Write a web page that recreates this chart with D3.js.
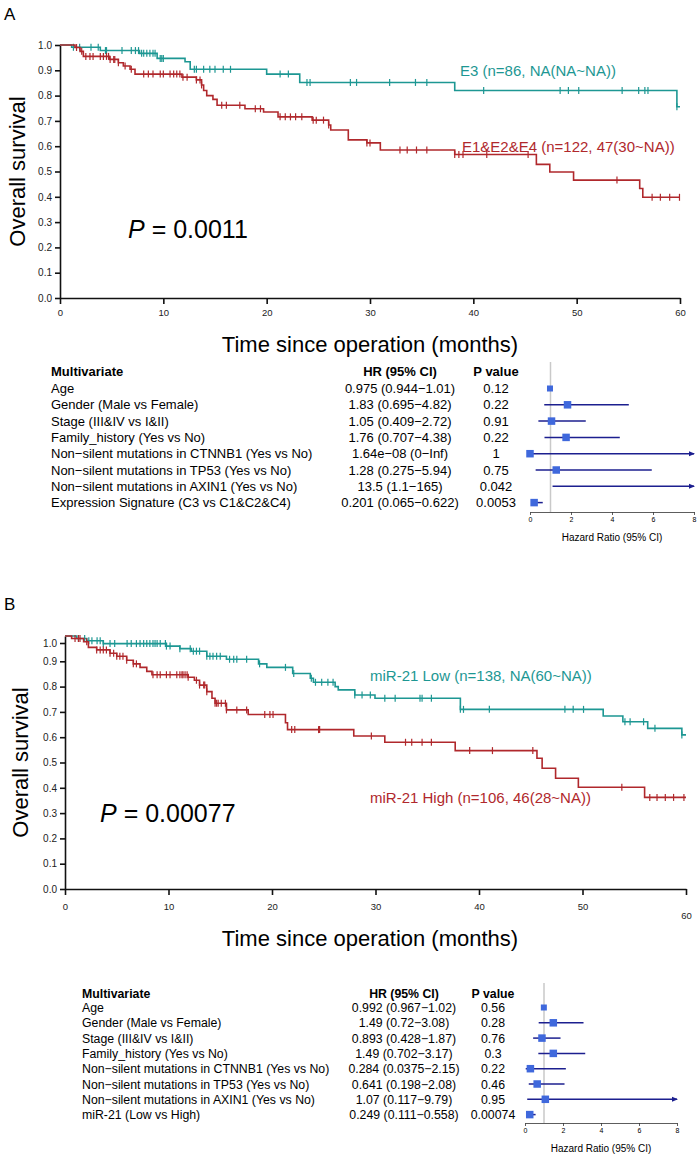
<!DOCTYPE html>
<html><head><meta charset="utf-8">
<script src="https://cdn.jsdelivr.net/npm/d3@7"></script>
<style>body{margin:0;background:#fff;} svg{display:block;font-family:"Liberation Sans",Arial,sans-serif;}</style>
</head><body><svg id="c" width="700" height="1170"></svg>
<script>
// ---------------- DATA ----------------
const xTicks = [0, 10, 20, 30, 40, 50, 60];
const yTicks = [0, 0.1, 0.2, 0.3, 0.4, 0.5, 0.6, 0.7, 0.8, 0.9, 1.0];
const forestTicks = [0, 2, 4, 6, 8];

// Panel A: E3
const aTealTimes = [0, 1.13, 3.9, 7.7, 9.4, 12.1, 12.6, 20.0, 23.2, 38.2, 59.7];
const aTealSurv  = [1.0, 0.991, 0.978, 0.967, 0.947, 0.934, 0.904, 0.885, 0.852, 0.82, 0.756];
const aTealCens  = [1.3, 1.9, 3.0, 3.7, 4.4, 4.5, 6.0, 6.9, 7.3, 7.6, 7.9, 8.1, 8.4, 8.7, 9.0, 9.2, 9.7, 9.85, 10.0, 13.0, 13.2, 13.9, 14.5, 15.0, 15.8, 16.5, 21.3, 22.1, 23.9, 24.2, 28.1, 28.7, 31.9, 34.4, 35.5, 41.0, 48.4, 49.2, 50.2, 54.4, 56.0, 56.6, 56.9, 59.7];
// Panel A: E1&E2&E4
const aRedTimes = [0, 1.45, 1.94, 2.26, 4.8, 5.65, 6.13, 6.78, 7.26, 11.8, 13.2, 13.7, 13.9, 14.2, 14.8, 15.2, 17.9, 19.7, 21.1, 24.4, 26.0, 26.2, 27.9, 29.7, 31.0, 38.2, 46.1, 47.4, 49.7, 56.1, 56.4];
const aRedSurv  = [1.0, 0.99, 0.975, 0.955, 0.943, 0.93, 0.917, 0.904, 0.885, 0.873, 0.862, 0.842, 0.82, 0.80, 0.785, 0.762, 0.748, 0.735, 0.716, 0.703, 0.684, 0.664, 0.625, 0.613, 0.585, 0.567, 0.528, 0.498, 0.466, 0.433, 0.398];
const aRedCens  = [1.6, 2.1, 2.5, 2.9, 3.2, 3.9, 4.2, 4.5, 4.7, 4.85, 5.2, 5.3, 5.65, 6.3, 6.9, 8.1, 8.55, 9.0, 9.7, 10.0, 10.65, 11.0, 11.3, 11.6, 11.9, 12.3, 13.2, 13.55, 13.7, 15.65, 16.1, 17.4, 18.9, 19.4, 21.3, 21.8, 22.3, 22.8, 23.4, 24.5, 24.8, 25.5, 26.0, 29.7, 30.0, 32.9, 33.6, 34.5, 35.5, 38.2, 38.6, 39.0, 41.3, 45.3, 53.9, 57.3, 58.1, 59.0, 59.95];

// Panel B: miR-21 Low
const bTealTimes = [0, 1.13, 2.1, 3.7, 9.8, 11.1, 12.2, 13.7, 15.6, 18.7, 19.5, 22.0, 23.7, 24.0, 26.1, 26.4, 28.0, 29.95, 38.2, 52.0, 53.9, 56.3, 59.6];
const bTealSurv  = [1.0, 0.99, 0.981, 0.97, 0.96, 0.95, 0.94, 0.92, 0.908, 0.89, 0.876, 0.852, 0.833, 0.817, 0.80, 0.787, 0.767, 0.754, 0.71, 0.684, 0.661, 0.635, 0.609];
const bTealCens  = [1.3, 1.9, 2.3, 2.6, 3.1, 3.4, 3.7, 4.35, 4.8, 6.0, 6.4, 6.9, 7.25, 7.6, 7.9, 8.2, 8.5, 8.7, 8.9, 9.2, 9.7, 9.8, 10.15, 11.1, 12.1, 12.4, 12.7, 13.0, 13.7, 14.0, 14.3, 14.65, 15.0, 15.9, 16.3, 16.6, 17.55, 18.8, 21.3, 22.1, 23.8, 24.2, 24.8, 25.4, 25.9, 28.0, 28.7, 29.5, 30.9, 31.9, 34.3, 34.5, 35.4, 38.2, 38.5, 41.0, 48.3, 49.1, 50.1, 54.1, 54.6, 55.9, 57.0, 59.6];
// Panel B: miR-21 High
const bRedTimes = [0, 0.64, 1.8, 2.26, 3.06, 4.35, 5.0, 5.96, 6.6, 7.25, 7.9, 8.4, 11.9, 12.5, 13.0, 13.7, 14.2, 14.5, 15.6, 17.7, 21.3, 21.5, 27.9, 30.9, 37.7, 45.6, 46.1, 47.4, 49.6, 56.0];
const bRedSurv  = [1.0, 0.99, 0.977, 0.955, 0.945, 0.932, 0.92, 0.904, 0.89, 0.876, 0.86, 0.847, 0.837, 0.825, 0.806, 0.78, 0.754, 0.734, 0.708, 0.69, 0.657, 0.63, 0.605, 0.58, 0.547, 0.517, 0.477, 0.438, 0.402, 0.362];
const bRedCens  = [0.97, 1.3, 1.45, 2.1, 3.06, 3.4, 3.7, 4.0, 4.35, 4.7, 5.0, 5.3, 5.6, 5.96, 6.6, 6.9, 8.5, 8.9, 9.2, 9.8, 10.15, 10.8, 11.1, 11.3, 11.4, 11.6, 11.8, 11.9, 12.7, 13.0, 13.4, 13.5, 13.7, 14.5, 14.65, 14.8, 15.1, 15.5, 15.6, 16.6, 17.55, 19.3, 19.8, 20.1, 21.9, 22.2, 24.5, 24.6, 29.6, 32.9, 33.5, 34.5, 35.4, 39.1, 41.3, 45.2, 53.8, 56.5, 57.2, 58.0, 58.8, 59.8];

// Forest A
const aVars = ["Age", "Gender (Male vs Female)", "Stage (III&IV vs I&II)", "Family_history (Yes vs No)", "Non\u2212silent mutations in CTNNB1 (Yes vs No)", "Non\u2212silent mutations in TP53 (Yes vs No)", "Non\u2212silent mutations in AXIN1 (Yes vs No)", "Expression Signature (C3 vs C1&C2&C4)"];
const aHR  = [0.975, 1.83, 1.05, 1.76, 1.64e-08, 1.28, 13.5, 0.201];
const aLo  = [0.944, 0.695, 0.409, 0.707, 0, 0.275, 1.1, 0.065];
const aHi  = [1.01, 4.82, 2.72, 4.38, Infinity, 5.94, 165, 0.622];
const aHRtext = ["0.975 (0.944\u22121.01)", "1.83 (0.695\u22124.82)", "1.05 (0.409\u22122.72)", "1.76 (0.707\u22124.38)", "1.64e\u221208 (0\u2212Inf)", "1.28 (0.275\u22125.94)", "13.5 (1.1\u2212165)", "0.201 (0.065\u22120.622)"];
const aP   = ["0.12", "0.22", "0.91", "0.22", "1", "0.75", "0.042", "0.0053"];

// Forest B
const bVars = ["Age", "Gender (Male vs Female)", "Stage (III&IV vs I&II)", "Family_history (Yes vs No)", "Non\u2212silent mutations in CTNNB1 (Yes vs No)", "Non\u2212silent mutations in TP53 (Yes vs No)", "Non\u2212silent mutations in AXIN1 (Yes vs No)", "miR-21 (Low vs High)"];
const bHR  = [0.992, 1.49, 0.893, 1.49, 0.284, 0.641, 1.07, 0.249];
const bLo  = [0.967, 0.72, 0.428, 0.702, 0.0375, 0.198, 0.117, 0.111];
const bHi  = [1.02, 3.08, 1.87, 3.17, 2.15, 2.08, 9.79, 0.558];
const bHRtext = ["0.992 (0.967\u22121.02)", "1.49 (0.72\u22123.08)", "0.893 (0.428\u22121.87)", "1.49 (0.702\u22123.17)", "0.284 (0.0375\u22122.15)", "0.641 (0.198\u22122.08)", "1.07 (0.117\u22129.79)", "0.249 (0.111\u22120.558)"];
const bP   = ["0.56", "0.28", "0.76", "0.3", "0.22", "0.46", "0.95", "0.00074"];

// ---------------- DRAW ----------------
const TEAL = "#1d9793", RED = "#b0282c", BOX = "#3f68dc", CI = "#1c1f8f";
const svg = d3.select("#c");

function drawKM(o) {
  const x = d3.scaleLinear().domain([0, 60]).range(o.xr);
  const y = d3.scaleLinear().domain([0, 1]).range(o.yr);
  const g = svg.append("g");
  const xa = g.append("g").attr("transform", `translate(0,${o.yr[0]})`)
    .call(d3.axisBottom(x).tickValues(xTicks).tickSize(6).tickSizeOuter(0).tickFormat(d3.format("d")));
  xa.selectAll("text").attr("font-size", 9.5).attr("dy", o.xdy).attr("fill", "#222");
  const ya = g.append("g").attr("transform", `translate(${o.xr[0]},0)`)
    .call(d3.axisLeft(y).tickValues(yTicks).tickSize(5).tickSizeOuter(0).tickFormat(d3.format(".1f")));
  ya.selectAll("text").attr("font-size", 10).attr("fill", "#222");
  g.selectAll(".domain, .tick line").attr("stroke", "#111").attr("stroke-width", 1.6);
  if (o.after) o.after(xa, ya);

  const line = d3.line().x(d => x(d[0])).y(d => y(d[1])).curve(d3.curveStepAfter);
  o.curves.forEach(c => {
    const pts = c.t.map((t, i) => [t, c.s[i]]);
    pts.push([60, c.s[c.s.length - 1]]);
    g.append("path").attr("d", line(pts)).attr("fill", "none").attr("stroke", c.col).attr("stroke-width", 1.6);
    const sAt = t => c.s[d3.bisectRight(c.t, t) - 1];
    g.append("g").selectAll("line").data(c.cens).join("line")
      .attr("x1", d => x(d)).attr("x2", d => x(d))
      .attr("y1", d => y(sAt(d)) - 3.5).attr("y2", d => y(sAt(d)) + 3.5)
      .attr("stroke", c.col).attr("stroke-width", 1.2);
    g.append("text").attr("x", c.lx).attr("y", c.ly).attr("fill", c.col).attr("font-size", 15).text(c.label);
  });
  g.append("text").attr("x", o.px).attr("y", o.py).attr("font-size", 25)
    .html(`<tspan font-style="italic">P</tspan> = ${o.pval}`);
  g.append("text").attr("transform", `translate(${o.ylx},${(o.yr[0] + o.yr[1]) / 2}) rotate(-90)`)
    .attr("text-anchor", "middle").attr("font-size", 22).text("Overall survival");
  g.append("text").attr("x", 370).attr("y", o.xly).attr("text-anchor", "middle").attr("font-size", 22)
    .text("Time since operation (months)");
  g.append("text").attr("x", 4).attr("y", o.panelY).attr("font-size", 17).text(o.panel);
}

function drawForest(o) {
  const g = svg.append("g");
  const fx = d3.scaleLinear().domain([0, 8]).range(o.fr);
  const rowY = i => o.row0 + o.dy * i;
  g.append("text").attr("x", o.labX).attr("y", o.headY).attr("font-size", o.fs).attr("font-weight", "bold").text("Multivariate");
  g.append("text").attr("x", o.hrX).attr("y", o.headY).attr("font-size", o.fs).attr("font-weight", "bold").attr("text-anchor", "middle").text("HR (95% CI)");
  g.append("text").attr("x", o.pX).attr("y", o.headY).attr("font-size", o.fs).attr("font-weight", "bold").attr("text-anchor", "middle").text("P value");
  g.selectAll(".lab").data(o.vars).join("text").attr("x", o.labX).attr("y", (d, i) => rowY(i)).attr("font-size", o.fs).text(d => d);
  g.selectAll(".hr").data(o.hrText).join("text").attr("x", o.hrX).attr("y", (d, i) => rowY(i)).attr("font-size", o.fs).attr("text-anchor", "middle").text(d => d);
  g.selectAll(".pv").data(o.p).join("text").attr("x", o.pX).attr("y", (d, i) => rowY(i)).attr("font-size", o.fs).attr("text-anchor", "middle").text(d => d);
  // reference line at HR = 1
  g.append("line").attr("x1", fx(1)).attr("x2", fx(1)).attr("y1", o.refTop).attr("y2", o.axisY)
    .attr("stroke", "#c9c9c9").attr("stroke-width", 1.5);
  // axis
  const ax = g.append("g").attr("transform", `translate(0,${o.axisY})`)
    .call(d3.axisBottom(fx).tickValues(forestTicks).tickSize(3).tickSizeOuter(0));
  ax.selectAll("text").attr("font-size", 7).attr("dy", "0.55em");
  ax.selectAll(".domain, .tick line").attr("stroke", "#333").attr("stroke-width", 0.8);
  g.append("text").attr("x", (o.fr[0] + o.fr[1]) / 2).attr("y", o.axisY + 29).attr("text-anchor", "middle").attr("font-size", 10).text("Hazard Ratio (95% CI)");
  // CIs and boxes
  o.hr.forEach((h, i) => {
    const cy = rowY(i) - 4.5;
    const lo = Math.max(0, o.lo[i]), hi = Math.min(8, o.hi[i]);
    g.append("line").attr("x1", fx(lo)).attr("x2", fx(hi)).attr("y1", cy).attr("y2", cy).attr("stroke", CI).attr("stroke-width", 1.5);
    if (o.hi[i] > 8) {
      const xe = fx(8);
      g.append("path").attr("d", `M${xe - 5},${cy - 2.5}L${xe + 1},${cy}L${xe - 5},${cy + 2.5}Z`).attr("fill", CI);
    }
    if (h <= 8) {
      const s = i === 0 ? 6 : 7.5;
      g.append("rect").attr("x", fx(h) - s / 2).attr("y", cy - s / 2).attr("width", s).attr("height", s).attr("fill", BOX);
    }
  });
}

drawKM({
  xr: [60, 680], yr: [298, 45], xdy: "0.95em", panel: "A", panelY: 20,
  px: 128, py: 238, pval: "0.0011", ylx: 25, xly: 352,
  curves: [
    { t: aTealTimes, s: aTealSurv, cens: aTealCens, col: TEAL, label: "E3 (n=86, NA(NA~NA))", lx: 460, ly: 76 },
    { t: aRedTimes, s: aRedSurv, cens: aRedCens, col: RED, label: "E1&E2&E4 (n=122, 47(30~NA))", lx: 462, ly: 152 }
  ]
});
drawForest({
  vars: aVars, hr: aHR, lo: aLo, hi: aHi, hrText: aHRtext, p: aP,
  fs: 13, labX: 51, hrX: 400, pX: 496, headY: 376, row0: 393, dy: 16.3,
  fr: [530, 694], refTop: 362, axisY: 512
});

drawKM({
  xr: [65, 686], yr: [889, 636], xdy: "1.3em", panel: "B", panelY: 610,
  px: 100, py: 822, pval: "0.00077", ylx: 28, xly: 946,
  after: (xa, ya) => {
    xa.selectAll(".tick").filter(d => d === 60).select("text").attr("dy", "2.2em");
    ya.selectAll(".tick").filter(d => d === 1).attr("transform", function () {
      return d3.select(this).attr("transform").replace(/,([\d.]+)\)/, (m, v) => "," + (+v + 7) + ")");
    });
  },
  curves: [
    { t: bTealTimes, s: bTealSurv, cens: bTealCens, col: TEAL, label: "miR-21 Low (n=138, NA(60~NA))", lx: 370, ly: 681 },
    { t: bRedTimes, s: bRedSurv, cens: bRedCens, col: RED, label: "miR-21 High (n=106, 46(28~NA))", lx: 370, ly: 803 }
  ]
});
drawForest({
  vars: bVars, hr: bHR, lo: bLo, hi: bHi, hrText: bHRtext, p: bP,
  fs: 12.3, labX: 82, hrX: 404, pX: 493, headY: 998, row0: 1012, dy: 15.3,
  fr: [525, 677], refTop: 983, axisY: 1123
});
</script></body></html>
